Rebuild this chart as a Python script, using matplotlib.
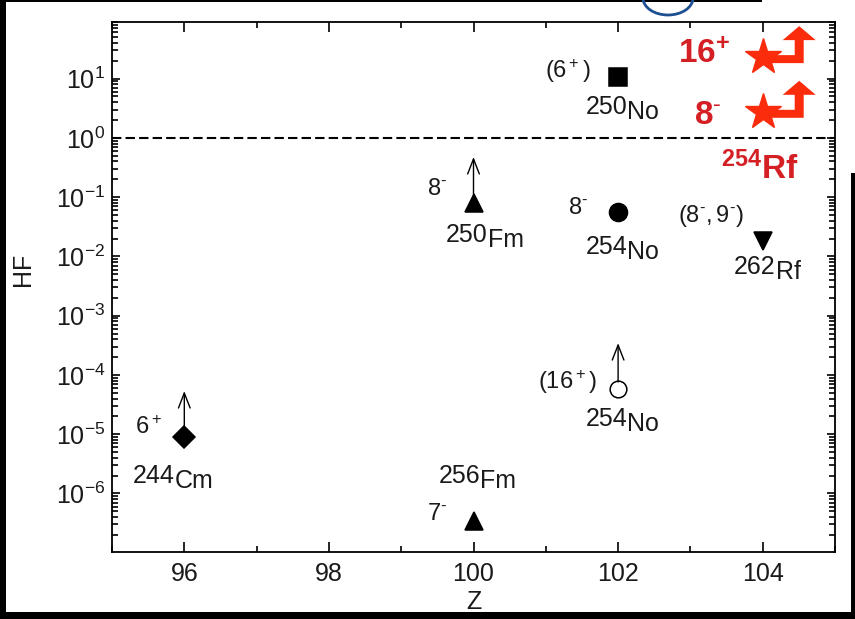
import numpy as np
import matplotlib.pyplot as plt
import matplotlib.transforms as mtransforms
from matplotlib.patches import Polygon, Rectangle, Arc
from matplotlib.ticker import MultipleLocator, LogLocator, NullFormatter

plt.rcParams['font.family'] = ['Liberation Sans', 'DejaVu Sans']
plt.rcParams['mathtext.fontset'] = 'custom'
plt.rcParams['mathtext.rm'] = 'Liberation Sans'
plt.rcParams['mathtext.it'] = 'Liberation Sans:italic'
plt.rcParams['mathtext.bf'] = 'Liberation Sans:bold'

# hindrance factors of known K isomers
z_vals = [96, 100, 100, 102, 102, 102, 104]
hf_vals = [9e-6, 3.5e-7, 0.08, 0.056, 10.7, 5.8e-5, 0.018]
mass = ['244', '256', '250', '254', '250', '254', '262']
element = ['Cm', 'Fm', 'Fm', 'No', 'No', 'No', 'Rf']
spin = [r'$\mathregular{6^+}$', r'$\mathregular{7^{\text{-}}}$', r'$\mathregular{8^{\text{-}}}$',
        r'$\mathregular{8^{\text{-}}}$', r'$\mathregular{(6^+)}$', r'$\mathregular{(16^+)}$',
        r'$\mathregular{(8^{\text{-}},9^{\text{-}})}$']
lower_limit = [True, False, True, False, False, True, False]

# 254Rf isomers
rf_z = [104, 104]
rf_hf = [23, 2.75]
rf_spin = [r'$\mathbf{16}^{\mathbf{+}}$', r'$\mathbf{8}^{\mathbf{\text{-}}}$']

markers = ['D', '^', '^', 'o', 's', 'o', 'v']
msizes = [11, 13.5, 13.5, 13, 13, 12, 13]
faces = ['k', 'k', 'k', 'k', 'k', 'w', 'k']
# label offsets in pixels: spin (right edge), isotope split point
spin_off = [(-22, 9), (-26, 7), (-26, 14), (-30, 4), (-28, 6), (-21, 7), (-19, 25)]
iso_off = [(-10, -39), (7, 45), (14, -32), (9, -35), (9, -30), (9, -30), (13, -26)]
rf_spin_off = [(-33, 3), (-41, -4)]

W, H = 855, 619
txt = '#1a1a1a'
star_col = '#fb2c0c'
red_txt = '#d41f24'

fig = plt.figure(figsize=(W / 100, H / 100), dpi=100)
ax = fig.add_axes([112 / W, 1 - 552 / H, (835 - 112) / W, (552 - 22) / H])
ax.set_yscale('log')
ax.set_xlim(95, 105)
ax.set_ylim(1.03e-7, 90)

ax.axhline(1, color='k', lw=1.5, dashes=(4.5, 2), zorder=1)

for i in range(len(z_vals)):
    ax.plot(z_vals[i], hf_vals[i], marker=markers[i], ms=msizes[i], mfc=faces[i],
            mec='k', mew=1.1, ls='none', zorder=3)
    if lower_limit[i]:
        ax.annotate('', xy=(z_vals[i], hf_vals[i]), xytext=(0, 33),
                    textcoords='offset points',
                    arrowprops=dict(arrowstyle='<-,head_length=0.9,head_width=0.35',
                                    color='k', lw=1.0, shrinkA=0, shrinkB=5,
                                    mutation_scale=12))
    sx, sy = spin_off[i]
    ax.annotate(spin[i], (z_vals[i], hf_vals[i]), xytext=(sx, sy),
                textcoords='offset pixels', ha='right', va='center',
                fontsize=17, color=txt)
    ix, iy = iso_off[i]
    ax.annotate(mass[i], (z_vals[i], hf_vals[i]), xytext=(ix, iy),
                textcoords='offset pixels', ha='right', va='center',
                fontsize=18, color=txt)
    ax.annotate(element[i], (z_vals[i], hf_vals[i]), xytext=(ix, iy - 5),
                textcoords='offset pixels', ha='left', va='center',
                fontsize=18, color=txt)

# bent arrow outline, pixels relative to the star centre
bent = np.array([(0, -6), (41, -6), (41, 17), (53, 17), (36.5, 31), (20, 17),
                 (32, 17), (32, 2), (0, 2)])
for i in range(len(rf_z)):
    ax.plot(rf_z[i], rf_hf[i], marker='*', ms=27, color=star_col, mec=star_col,
            ls='none', zorder=4)
    cx, cy = ax.transData.transform((rf_z[i], rf_hf[i]))
    ax.add_patch(Polygon(bent + [cx, cy], closed=True, fc=star_col, ec='none',
                         transform=mtransforms.IdentityTransform(), clip_on=False,
                         zorder=4))
    sx, sy = rf_spin_off[i]
    ax.annotate(rf_spin[i], (rf_z[i], rf_hf[i]), xytext=(sx, sy),
                textcoords='offset pixels', ha='right', va='center',
                fontsize=24, color=red_txt)
ax.annotate(r'$^{\mathbf{254}}\mathbf{Rf}$', (rf_z[1], rf_hf[1]), xytext=(-42, -57),
            textcoords='offset pixels', ha='left', va='center',
            fontsize=24, color=red_txt)

ax.set_xticks([96, 98, 100, 102, 104])
ax.xaxis.set_minor_locator(MultipleLocator(1))
ax.yaxis.set_major_locator(LogLocator(base=10, numticks=20))
ax.yaxis.set_minor_locator(LogLocator(base=10, subs=np.arange(2, 10), numticks=20))
ax.yaxis.set_minor_formatter(NullFormatter())
ax.tick_params(which='both', direction='in', top=True, right=True, width=1.2,
               colors='k', labelcolor=txt, labelsize=18)
ax.tick_params(axis='x', which='major', length=7, pad=7)
ax.tick_params(axis='x', which='minor', length=4)
ax.tick_params(axis='y', which='major', length=6, pad=5)
ax.tick_params(axis='y', which='minor', length=4)
for s in ax.spines.values():
    s.set_linewidth(1.3)

ax.set_xlabel('Z', fontsize=18, color=txt, labelpad=3)
ax.set_ylabel('HF', fontsize=18, color=txt)
ax.yaxis.set_label_coords(-0.106, 0.534)


def px_rect(x0, y0, w, h):
    fig.add_artist(Rectangle((x0 / W, 1 - (y0 + h) / H), w / W, h / H,
                             transform=fig.transFigure, color='black', lw=0,
                             zorder=10))


# black frame remnants round the picture
px_rect(0, 0, 6, H)
px_rect(0, 612, W, 7)
px_rect(851, 173, 4, H - 173)
px_rect(0, 0, 762, 1.5)
fig.add_artist(Arc((668 / W, 1 + 2 / H), 50 / W, 34 / H, theta1=180, theta2=360,
                   transform=fig.transFigure, color='#1d4f91', lw=2, zorder=10))

fig.savefig('out.png', dpi=100)
